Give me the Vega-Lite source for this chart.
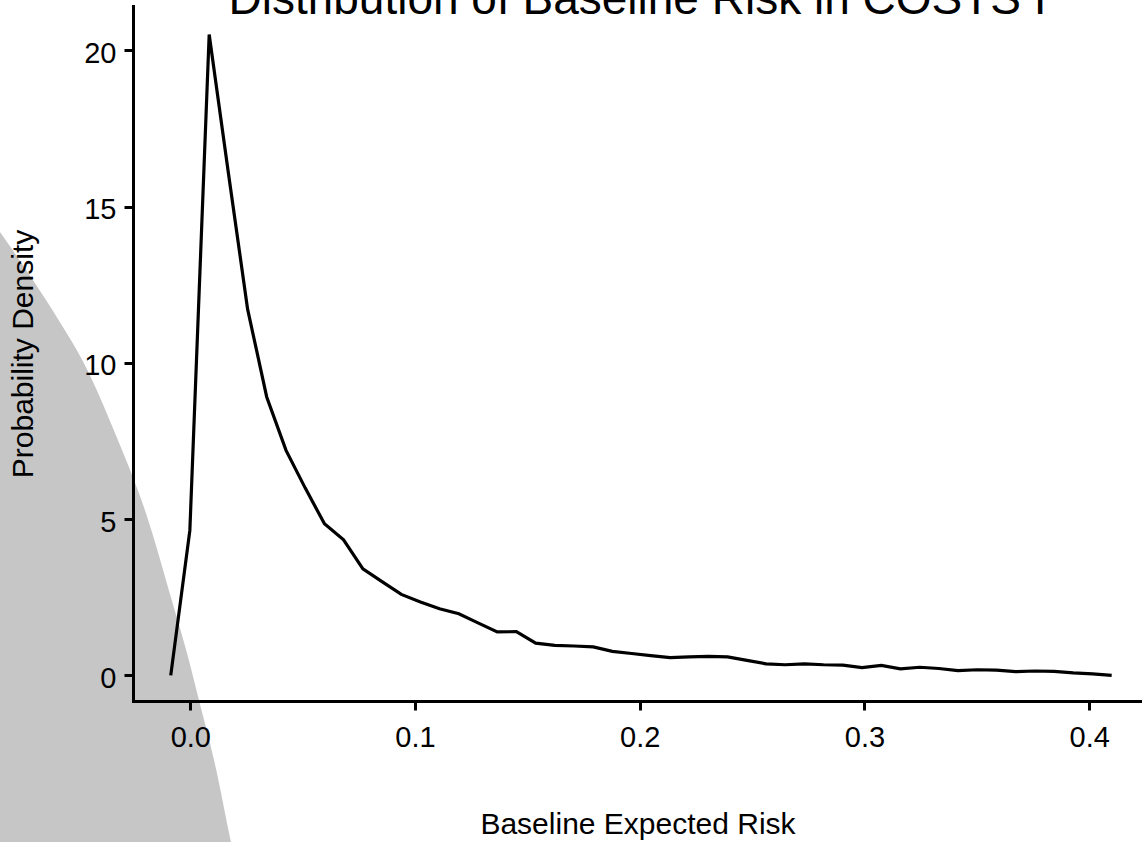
{
  "$schema": "https://vega.github.io/schema/vega-lite/v6.json",
  "width": 1009,
  "height": 695,
  "autosize": "none",
  "padding": {"left": 133, "top": 6, "right": 0, "bottom": 141},
  "background": "white",
  "title": {
    "text": "Distribution of Baseline Risk in COSTS I",
    "font": "Liberation Sans",
    "fontSize": 46,
    "fontWeight": "normal",
    "color": "black",
    "anchor": "middle",
    "frame": "group",
    "baseline": "alphabetic",
    "offset": -54
  },
  "config": {
    "view": {"stroke": null},
    "axis": {
      "grid": false,
      "domainColor": "black",
      "domainWidth": 3,
      "domainCap": "square",
      "tickColor": "black",
      "tickWidth": 3,
      "tickSize": 9,
      "labelFont": "Liberation Sans",
      "labelFontSize": 29,
      "labelColor": "black",
      "labelFlush": false,
      "labelOverlap": false,
      "titleFont": "Liberation Sans",
      "titleFontSize": 30,
      "titleFontWeight": "normal",
      "titleColor": "black"
    }
  },
  "datasets": {
    "shade": [
      {"x": -0.0874, "y": 14.46},
      {"x": -0.0852, "y": 14.24},
      {"x": -0.0705, "y": 12.70},
      {"x": -0.0585, "y": 11.36},
      {"x": -0.0482, "y": 10.11},
      {"x": -0.0318, "y": 7.46},
      {"x": -0.0197, "y": 5.18},
      {"x": -0.0082, "y": 2.40},
      {"x": -0.0006, "y": 0.48},
      {"x": 0.0039, "y": -0.80},
      {"x": 0.0106, "y": -2.72},
      {"x": 0.0181, "y": -5.34},
      {"x": 0.0217, "y": -6.56}
    ],
    "density": [
      {"risk": -0.0087, "density": 0},
      {"risk": -0.0002, "density": 4.64},
      {"risk": 0.0084, "density": 20.51},
      {"risk": 0.0169, "density": 16.1},
      {"risk": 0.0255, "density": 11.72},
      {"risk": 0.0340, "density": 8.91},
      {"risk": 0.0426, "density": 7.2},
      {"risk": 0.0511, "density": 6.0},
      {"risk": 0.0597, "density": 4.85},
      {"risk": 0.0682, "density": 4.34},
      {"risk": 0.0768, "density": 3.41},
      {"risk": 0.0853, "density": 3.0},
      {"risk": 0.0939, "density": 2.59},
      {"risk": 0.1024, "density": 2.35},
      {"risk": 0.1109, "density": 2.13},
      {"risk": 0.1195, "density": 1.97},
      {"risk": 0.1280, "density": 1.68},
      {"risk": 0.1366, "density": 1.39},
      {"risk": 0.1451, "density": 1.40},
      {"risk": 0.1537, "density": 1.03},
      {"risk": 0.1622, "density": 0.96},
      {"risk": 0.1708, "density": 0.94},
      {"risk": 0.1793, "density": 0.91},
      {"risk": 0.1878, "density": 0.77},
      {"risk": 0.1964, "density": 0.70},
      {"risk": 0.2049, "density": 0.63},
      {"risk": 0.2135, "density": 0.57},
      {"risk": 0.2220, "density": 0.59},
      {"risk": 0.2306, "density": 0.61},
      {"risk": 0.2391, "density": 0.59},
      {"risk": 0.2477, "density": 0.48},
      {"risk": 0.2562, "density": 0.37},
      {"risk": 0.2647, "density": 0.34},
      {"risk": 0.2733, "density": 0.37},
      {"risk": 0.2818, "density": 0.34},
      {"risk": 0.2904, "density": 0.33},
      {"risk": 0.2989, "density": 0.25},
      {"risk": 0.3075, "density": 0.32},
      {"risk": 0.3160, "density": 0.21},
      {"risk": 0.3246, "density": 0.26},
      {"risk": 0.3331, "density": 0.22},
      {"risk": 0.3416, "density": 0.15},
      {"risk": 0.3502, "density": 0.18},
      {"risk": 0.3587, "density": 0.17},
      {"risk": 0.3673, "density": 0.12},
      {"risk": 0.3758, "density": 0.14},
      {"risk": 0.3844, "density": 0.13},
      {"risk": 0.3929, "density": 0.08},
      {"risk": 0.4015, "density": 0.05},
      {"risk": 0.4100, "density": 0.0}
    ]
  },
  "layer": [
    {
      "data": {"name": "shade"},
      "mark": {"type": "area", "color": "#c6c6c6", "clip": false, "interpolate": "monotone"},
      "encoding": {
        "x": {"field": "x", "type": "quantitative", "scale": {"domain": [-0.0255, 0.4235], "nice": false, "zero": false}},
        "y": {"field": "y", "type": "quantitative", "scale": {"domain": [-0.82, 21.42], "nice": false, "zero": false}},
        "y2": {"datum": -7}
      }
    },
    {
      "data": {"name": "density"},
      "mark": {"type": "line", "color": "black", "strokeWidth": 3.2, "clip": false},
      "encoding": {
        "x": {
          "field": "risk",
          "type": "quantitative",
          "scale": {"domain": [-0.0255, 0.4235], "nice": false, "zero": false},
          "axis": {
            "title": "Baseline Expected Risk",
            "values": [0, 0.1, 0.2, 0.3, 0.4],
            "format": ".1f",
            "labelPadding": 13,
            "titleY": 132,
            "titleBaseline": "alphabetic",
            "zindex": 2
          }
        },
        "y": {
          "field": "density",
          "type": "quantitative",
          "scale": {"domain": [-0.82, 21.42], "nice": false, "zero": false},
          "axis": {
            "title": "Probability Density",
            "values": [0, 5, 10, 15, 20],
            "labelPadding": 8,
            "labelBaseline": "middle",
            "labelOffset": 3,
            "titleX": -100.5,
            "titleBaseline": "alphabetic",
            "zindex": 2
          }
        }
      }
    }
  ]
}
